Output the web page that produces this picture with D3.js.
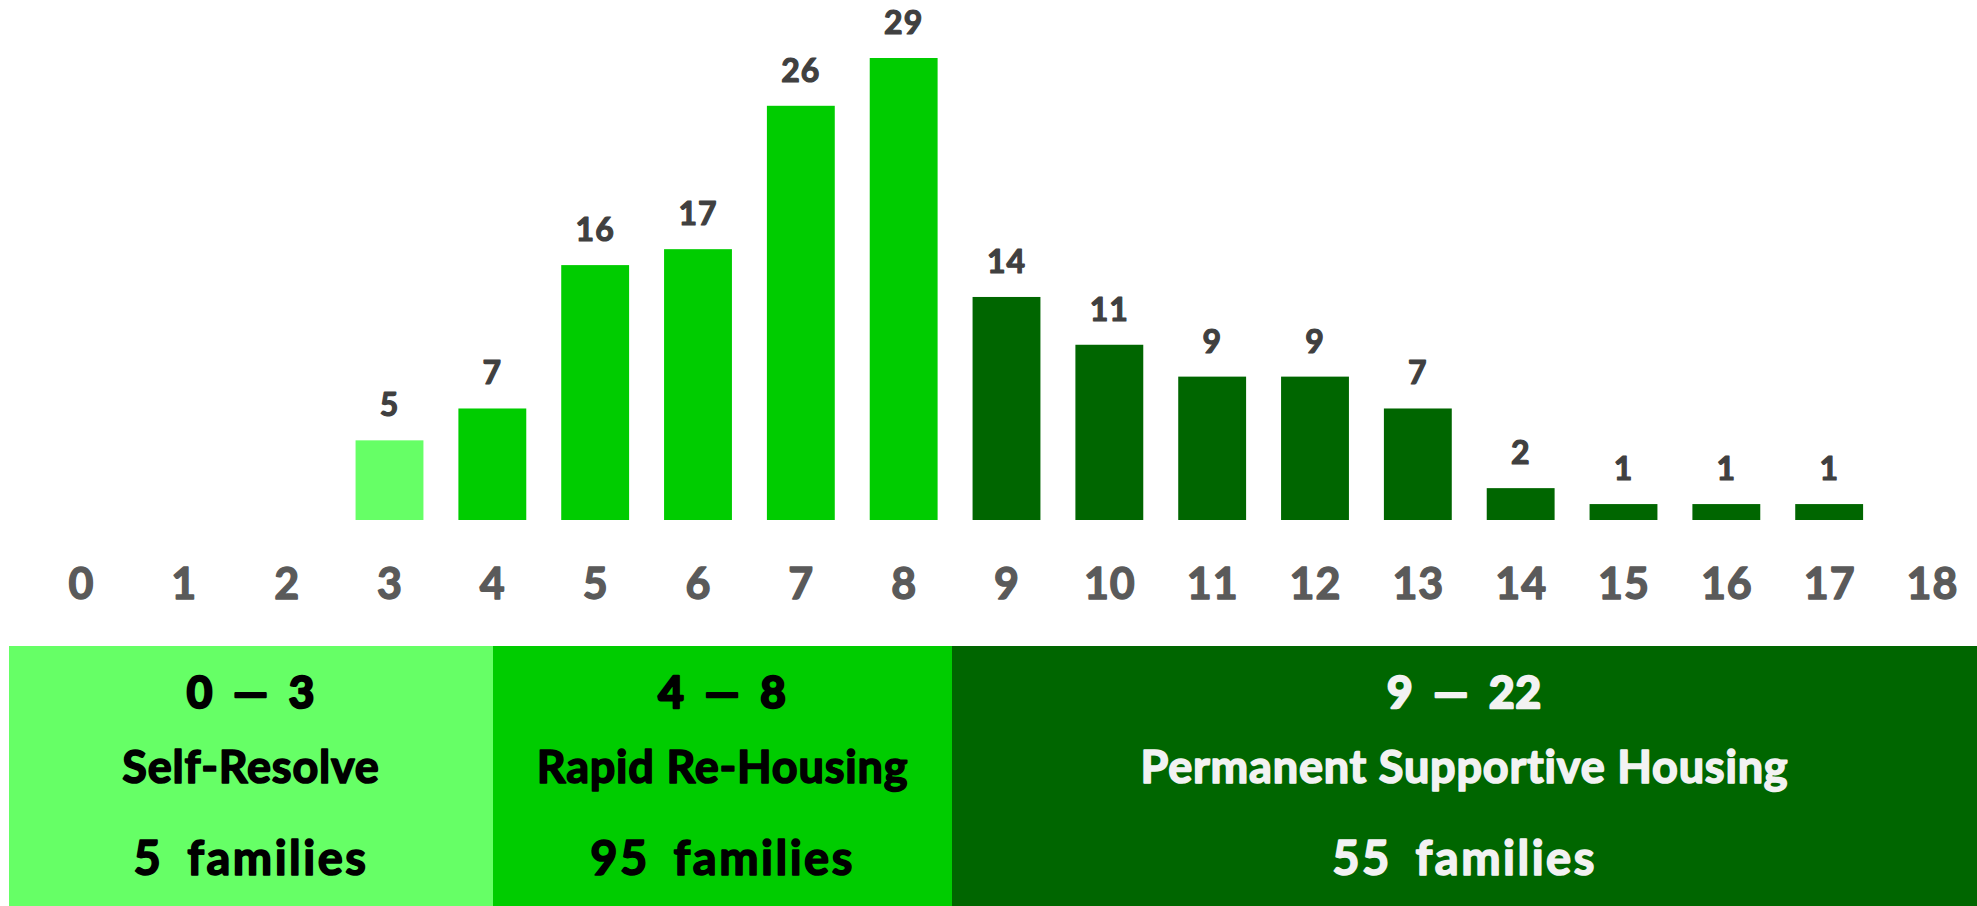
<!DOCTYPE html>
<html lang="en">
<head>
<meta charset="utf-8">
<title>Families by score</title>
<script src="https://d3js.org/d3.v7.min.js"></script>
<style>
  body { margin: 0; background: white; }
  text { font-family: Lato, "Open Sans", sans-serif; font-weight: bold; stroke-linejoin: round; }
</style>
</head>
<body>
<script>
// data
const scores = d3.range(0, 19);
const families = [0, 0, 0, 5, 7, 16, 17, 26, 29, 14, 11, 9, 9, 7, 2, 1, 1, 1, 0];

const groupRanges = ["0 \u2014 3", "4 \u2014 8", "9 \u2014 22"];
const groupNames = ["Self-Resolve", "Rapid Re-Housing", "Permanent Supportive Housing"];
const groupTotals = ["5 families", "95 families", "55 families"];
const groupStart = [0, 4, 9];   // first score of each group

const groupColors = ["#66ff66", "#00cc00", "#006600"];
const groupText = ["#000000", "#000000", "#f2f2f2"];

const W = 1977, H = 906;

const svg = d3.select("body").append("svg")
    .attr("width", W)
    .attr("height", H);

const x = d3.scalePoint().domain(scores).range([81, 1932]);
const barW = x.step() * 0.66;
const y = d3.scaleLinear().domain([0, 29]).range([520, 58]);

function groupOf(s) {
    if (s >= groupStart[2]) return 2;
    if (s >= groupStart[1]) return 1;
    return 0;
}

const bars = scores.map(function(s, i) { return {score: s, n: families[i]}; })
                   .filter(function(d) { return d.n > 0; });

svg.selectAll(".bar")
    .data(bars)
    .enter().append("rect")
      .attr("class", "bar")
      .attr("x", function(d) { return x(d.score) - barW / 2; })
      .attr("y", function(d) { return y(d.n); })
      .attr("width", barW)
      .attr("height", function(d) { return y(0) - y(d.n); })
      .attr("fill", function(d) { return groupColors[groupOf(d.score)]; });

svg.selectAll(".val")
    .data(bars)
    .enter().append("text")
      .attr("class", "val")
      .attr("x", function(d) { return x(d.score); })
      .attr("y", function(d) { return y(d.n) - 24; })
      .attr("text-anchor", "middle")
      .attr("fill", "#404040")
      .attr("stroke", "#404040")
      .attr("stroke-width", 1.2)
      .style("font-size", "32px")
      .style("letter-spacing", "1px")
      .text(function(d) { return d.n; });

// axis labels, no line or ticks
const axis = svg.append("g")
    .attr("transform", "translate(0,599)")
    .call(d3.axisBottom(x).tickSize(0).tickPadding(0));
axis.select(".domain").remove();
axis.selectAll("text")
    .attr("dy", 0)
    .attr("y", 0)
    .attr("fill", "#5a5a5a")
    .attr("stroke", "#5a5a5a")
    .attr("stroke-width", 1.4)
    .style("font-size", "43px")
    .style("letter-spacing", "1px")
    .style("font-family", "Lato, 'Open Sans', sans-serif")
    .style("font-weight", "bold");

// group boxes along the bottom
const boxEdges = [9, 493, 952, W];
const boxTop = 646;

const groups = groupNames.map(function(name, i) {
    return {i: i, range: groupRanges[i], name: name, total: groupTotals[i]};
});

const box = svg.selectAll(".box")
    .data(groups)
    .enter().append("g")
      .attr("class", "box");

box.append("rect")
    .attr("x", function(d) { return boxEdges[d.i]; })
    .attr("y", boxTop)
    .attr("width", function(d) { return boxEdges[d.i + 1] - boxEdges[d.i]; })
    .attr("height", H - boxTop)
    .attr("fill", function(d) { return groupColors[d.i]; });

const lines = [
    {key: "range", y: 708, size: 44, spacing: "1px", words: "8px"},
    {key: "name", y: 783, size: 45, spacing: "0.8px", words: "0px"},
    {key: "total", y: 875, size: 47, spacing: "2.5px", words: "10px"}
];

lines.forEach(function(l) {
    box.append("text")
        .attr("x", function(d) { return (boxEdges[d.i] + boxEdges[d.i + 1]) / 2; })
        .attr("y", l.y)
        .attr("text-anchor", "middle")
        .attr("fill", function(d) { return groupText[d.i]; })
        .attr("stroke", function(d) { return groupText[d.i]; })
        .attr("stroke-width", l.key == "range" ? 2.5 : 1.6)
        .style("font-size", l.size + "px")
        .style("letter-spacing", l.spacing)
        .style("word-spacing", l.words)
        .text(function(d) { return d[l.key]; });
});
</script>
</body>
</html>
